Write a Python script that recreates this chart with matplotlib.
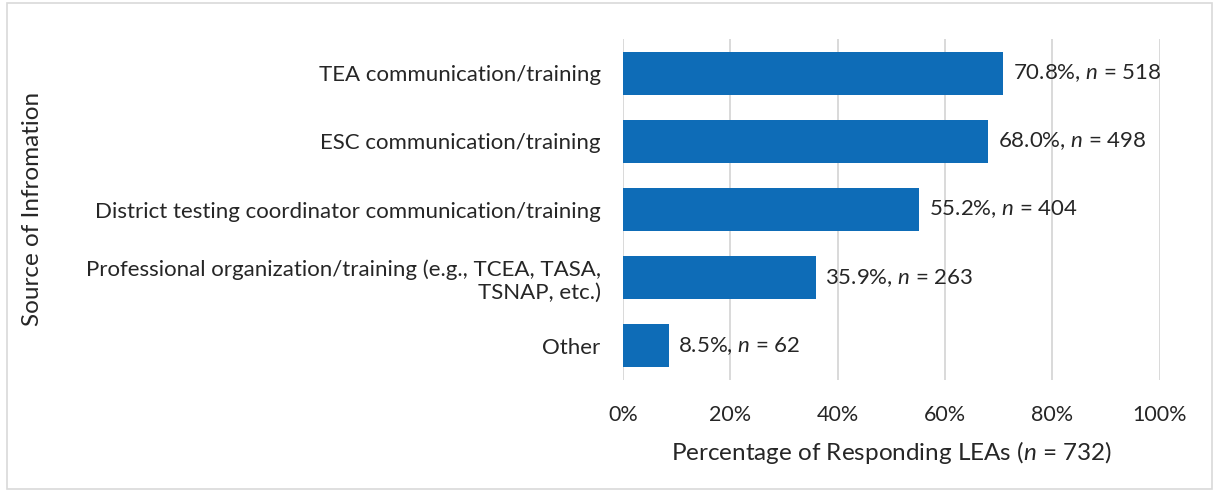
import matplotlib.pyplot as plt
from matplotlib.patches import Rectangle
from matplotlib.ticker import PercentFormatter

plt.rcParams['font.family'] = ['Lato', 'DejaVu Sans']
plt.rcParams['mathtext.fontset'] = 'custom'
plt.rcParams['mathtext.rm'] = 'Lato'
plt.rcParams['mathtext.it'] = 'Lato:italic'

categories = [
    'TEA communication/training',
    'ESC communication/training',
    'District testing coordinator communication/training',
    'Professional organization/training (e.g., TCEA, TASA,\nTSNAP, etc.)',
    'Other',
]
percents = [70.8, 68.0, 55.2, 35.9, 8.5]
counts = [518, 498, 404, 263, 62]
total_n = 732

fig = plt.figure(figsize=(12.19, 4.92), dpi=100)
ax = fig.add_axes([0.511, 0.2276, 0.4405, 0.693])

# light border round the whole chart
fig.patches.append(Rectangle((0.006, 0.006), 0.988, 0.988, transform=fig.transFigure,
                             fill=False, edgecolor='#d9d9d9', linewidth=1.2))

y = list(range(len(categories)))
bars = ax.barh(y, percents, height=0.63, color='#0e6cb7', zorder=3)
labels = ['%.1f%%, $\\mathit{n}$ = %d' % (p, c) for p, c in zip(percents, counts)]
ax.bar_label(bars, labels=labels, padding=7, fontsize=16, color='#262626')

ax.set_xlim(0, 100)
ax.set_ylim(len(categories) - 0.5, -0.5)
ax.set_xticks([0, 20, 40, 60, 80, 100])
ax.xaxis.set_major_formatter(PercentFormatter(decimals=0))
ax.set_yticks(y)
ax.set_yticklabels(categories)
ax.tick_params(axis='both', length=0, colors='#262626')
ax.tick_params(axis='y', pad=16, labelsize=16)
ax.tick_params(axis='x', pad=18, labelsize=15.5)
ax.grid(axis='x', color='#d9d9d9', linewidth=1.4, zorder=0)
for s in ax.spines.values():
    s.set_visible(False)

ax.set_xlabel('Percentage of Responding LEAs ($\\mathit{n}$ = %d)' % total_n,
              fontsize=17.5, color='#262626', labelpad=10)
fig.text(0.027, 0.575, 'Source of Infromation', rotation=90, fontsize=17.5,
         color='#262626', ha='center', va='center')

fig.savefig('out.png', dpi=100)
